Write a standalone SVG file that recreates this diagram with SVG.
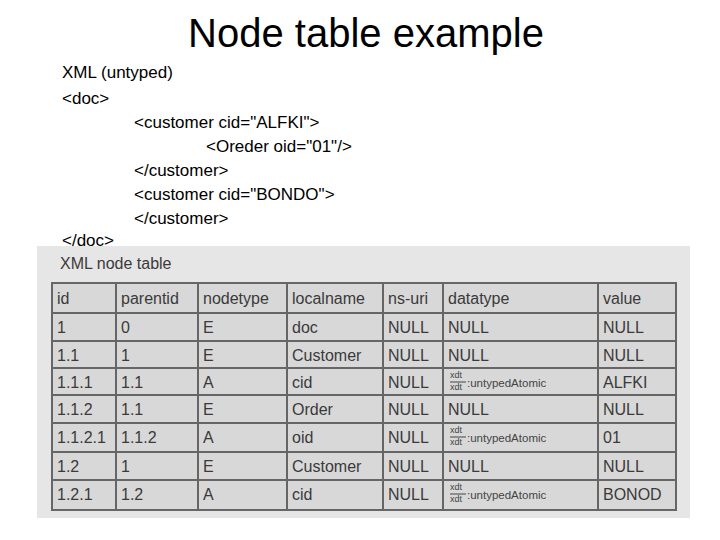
<svg xmlns="http://www.w3.org/2000/svg" width="720" height="540" viewBox="0 0 720 540">
<style>
.t{font-family:"Liberation Sans",Arial,sans-serif;fill:#000}
.x{font-size:17px}
.c{font-family:"Liberation Sans",Arial,sans-serif;font-size:16px;fill:#3a3a3a}
.s{font-family:"Liberation Sans",Arial,sans-serif;font-size:9px;fill:#444}
.u{font-family:"Liberation Sans",Arial,sans-serif;font-size:11.5px;fill:#444}
.g{stroke:#666;stroke-width:2;fill:none}
</style>
<rect width="720" height="540" fill="#fff"/>
<text class="t" x="366" y="47" font-size="40" text-anchor="middle">Node table example</text>
<g id="xml" class="t x">
<text x="62" y="78">XML (untyped)</text>
<text x="62" y="104">&lt;doc&gt;</text>
<text x="134" y="128">&lt;customer cid="ALFKI"&gt;</text>
<text x="206" y="152">&lt;Oreder oid="01"/&gt;</text>
<text x="134" y="176">&lt;/customer&gt;</text>
<text x="134" y="200">&lt;customer cid="BONDO"&gt;</text>
<text x="134" y="224">&lt;/customer&gt;</text>
<text x="62" y="246">&lt;/doc&gt;</text>
</g>
<g id="table">
<rect x="37" y="246" width="653" height="272" fill="#e6e6e6"/>
<text class="c" x="60" y="269" font-size="15">XML node table</text>
<rect x="52" y="283" width="624" height="227" fill="#d8d8d8"/>
<g class="g">
<rect x="52" y="283" width="624" height="227"/>
<path d="M52 313H676M52 341H676M52 368H676M52 395H676M52 423H676M52 452H676M52 480H676"/>
<path d="M116 283V510M198 283V510M287 283V510M383 283V510M443 283V510M598 283V510"/>
</g>
<g class="c">
<text x="57" y="304">id</text><text x="121" y="304">parentid</text><text x="203" y="304">nodetype</text><text x="292" y="304">localname</text><text x="388" y="304">ns-uri</text><text x="448" y="304">datatype</text><text x="603" y="304">value</text>
<text x="57" y="333">1</text><text x="121" y="333">0</text><text x="203" y="333">E</text><text x="292" y="333">doc</text><text x="388" y="333">NULL</text><text x="448" y="333">NULL</text><text x="603" y="333">NULL</text>
<text x="57" y="361">1.1</text><text x="121" y="361">1</text><text x="203" y="361">E</text><text x="292" y="361">Customer</text><text x="388" y="361">NULL</text><text x="448" y="361">NULL</text><text x="603" y="361">NULL</text>
<text x="57" y="388">1.1.1</text><text x="121" y="388">1.1</text><text x="203" y="388">A</text><text x="292" y="388">cid</text><text x="388" y="388">NULL</text><text x="603" y="388">ALFKI</text>
<text x="57" y="415">1.1.2</text><text x="121" y="415">1.1</text><text x="203" y="415">E</text><text x="292" y="415">Order</text><text x="388" y="415">NULL</text><text x="448" y="415">NULL</text><text x="603" y="415">NULL</text>
<text x="57" y="443">1.1.2.1</text><text x="121" y="443">1.1.2</text><text x="203" y="443">A</text><text x="292" y="443">oid</text><text x="388" y="443">NULL</text><text x="603" y="443">01</text>
<text x="57" y="472">1.2</text><text x="121" y="472">1</text><text x="203" y="472">E</text><text x="292" y="472">Customer</text><text x="388" y="472">NULL</text><text x="448" y="472">NULL</text><text x="603" y="472">NULL</text>
<text x="57" y="500">1.2.1</text><text x="121" y="500">1.2</text><text x="203" y="500">A</text><text x="292" y="500">cid</text><text x="388" y="500">NULL</text><text x="603" y="500">BONOD</text>
</g>
<g class="s">
<text x="450" y="378">xdt</text><text x="450" y="390">xdt</text>
<text x="450" y="433">xdt</text><text x="450" y="445">xdt</text>
<text x="450" y="490">xdt</text><text x="450" y="502">xdt</text>
</g>
<g class="u">
<text x="467" y="387">:untypedAtomic</text>
<text x="467" y="442">:untypedAtomic</text>
<text x="467" y="499">:untypedAtomic</text>
</g>
<path d="M450 382H466M450 437H466M450 494H466" stroke="#444" stroke-width="1"/>
</g>
</svg>
